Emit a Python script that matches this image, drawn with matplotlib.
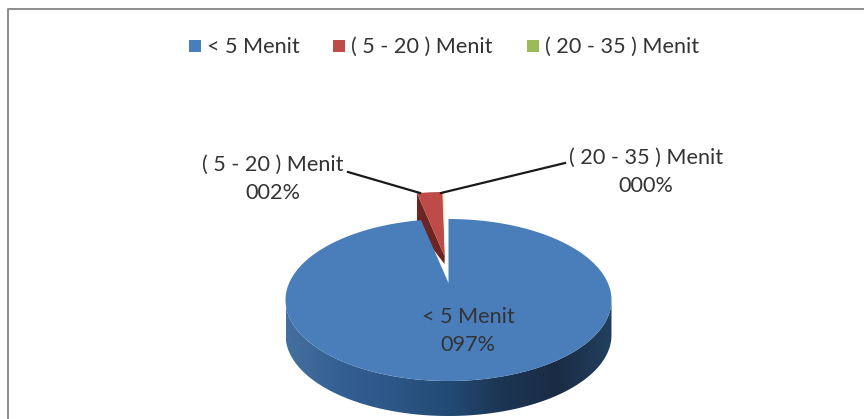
import numpy as np
import matplotlib
matplotlib.use('Agg')
import matplotlib.pyplot as plt
from matplotlib.colors import LinearSegmentedColormap
from matplotlib.patches import Polygon, Rectangle

plt.rcParams['font.family'] = ['Lato', 'DejaVu Sans']

categories = ['< 5 Menit', '( 5 - 20 ) Menit', '( 20 - 35 ) Menit']
values = [97.3, 2.49, 0.21]
colors = ['#4A7EBB', '#BE4B48', '#9BBB59']
sliver_color = '#E6E8CC'
wall_color = '#6E2422'
text_color = '#333333'

# pie geometry in pixels
cx, cy = 448.5, 300.0
rx, ry = 163.0, 81.0
apex_y = 283.0
depth = 35.0
explode = (-4.0, -27.0)


def arc(a0, a1, dx=0.0, dy=0.0, n=200):
    # angles run clockwise from 12 o'clock, in degrees
    t = np.radians(np.linspace(a0, a1, n))
    return np.column_stack([cx + dx + rx * np.sin(t), cy + dy - ry * np.cos(t)])


def wedge(a0, a1, dx=0.0, dy=0.0):
    return np.vstack([[cx + dx, apex_y + dy], arc(a0, a1, dx, dy)])


fig = plt.figure(figsize=(8.64, 4.19), dpi=100)
ax = fig.add_axes([0, 0, 1, 1])
ax.set_xlim(0, 864)
ax.set_ylim(419, 0)
ax.axis('off')

# chart frame, cut off by the right and bottom edges
ax.plot([8, 8, 864], [419, 9, 9], color='#8c8c8c', lw=1.4, zorder=1)

# slice angles from the values
ends = np.cumsum(values) / sum(values) * 360.0
starts = np.concatenate([[0.0], ends[:-1]])

# exploded small slices, back to front; the cut face tapers towards the tip
face_colors = [None, colors[1], sliver_color]
for i in [2, 1]:
    pts = wedge(starts[i], ends[i], *explode)
    tip, outer = pts[0], pts[1]
    wall = np.array([tip, outer, outer + [0, depth], tip + [0, 8]])
    ax.add_patch(Polygon(wall, closed=True, fc=wall_color, ec='none', zorder=2))
    ax.add_patch(Polygon(pts, closed=True, fc=face_colors[i], ec='none', zorder=3))

# side wall of the main slice with a left to right shade
front = arc(90, 270)
wall = np.vstack([front, front[::-1] + [0, depth]])
wall_patch = Polygon(wall, closed=True, fc='none', ec='none')
ax.add_patch(wall_patch)
shade = LinearSegmentedColormap.from_list(
    'shade', ['#44709f', '#345f92', '#2b5685', '#234a75', '#1c3552', '#1a2c44', '#22405f'])
img = ax.imshow(np.linspace(0, 1, 256)[None, :], cmap=shade, aspect='auto',
                extent=(cx - rx, cx + rx, cy + ry + depth, cy), zorder=4)
img.set_clip_path(wall_patch)
ax.set_xlim(0, 864)
ax.set_ylim(419, 0)

# top face of the main slice
ax.add_patch(Polygon(wedge(starts[0], ends[0]), closed=True, fc=colors[0], ec='none', zorder=5))

# leader lines
ax.plot([348, 420], [172, 193], color='#1a1a1a', lw=1.6, zorder=6)
ax.plot([441, 565], [193, 163], color='#1a1a1a', lw=1.6, zorder=6)

# data labels
label_pos = [(468, 331), (273, 179), (646, 172)]
for name, val, (x, y) in zip(categories, values, label_pos):
    ax.text(x, y, '%s\n%03.0f%%' % (name, val), ha='center', va='center',
            fontsize=15.6, color=text_color, linespacing=1.5, zorder=7)

# legend row
legend_x = [189, 333, 527]
for name, col, x in zip(categories, colors, legend_x):
    ax.add_patch(Rectangle((x, 40), 12, 12, fc=col, ec='none'))
    ax.text(x + 18, 47, name, ha='left', va='center', fontsize=15.6, color=text_color)

fig.savefig('out.png', dpi=100)
plt.close(fig)
